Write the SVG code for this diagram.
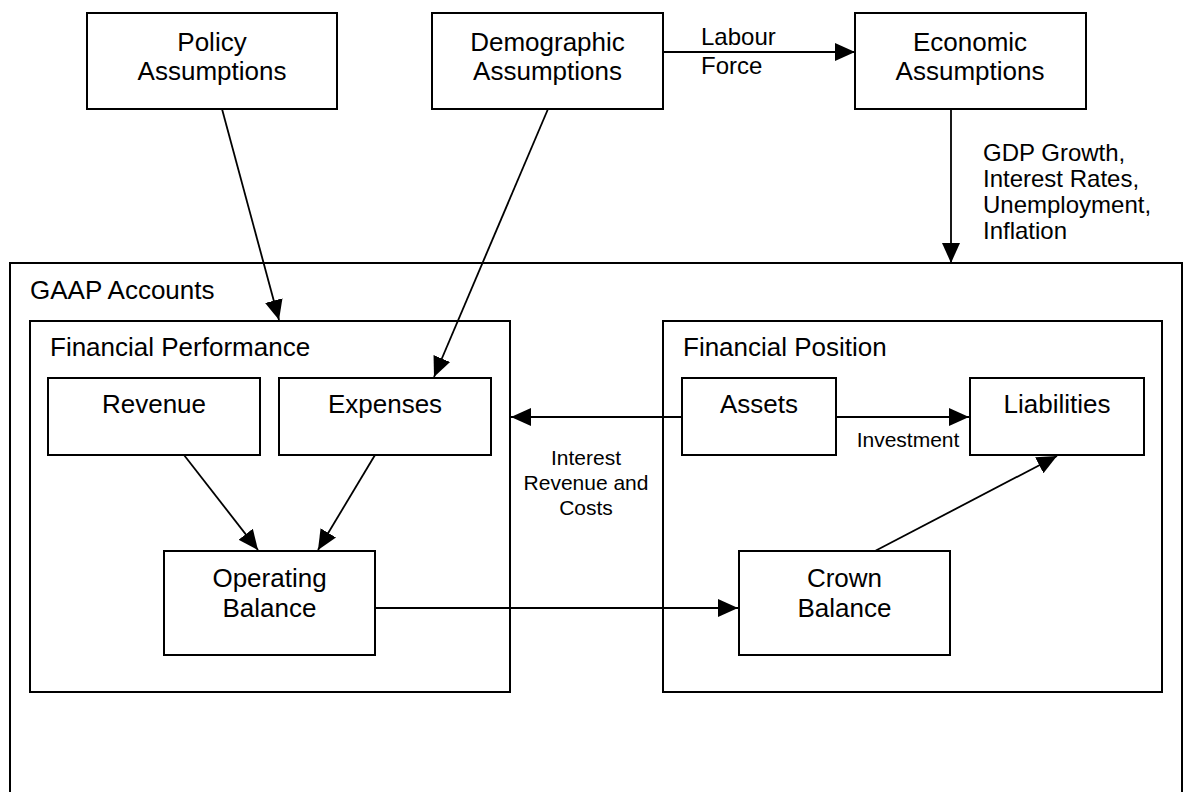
<svg xmlns="http://www.w3.org/2000/svg" width="1183" height="792" viewBox="0 0 1183 792">
<style>
.box{fill:#fff;stroke:#000;stroke-width:2}
.frame{fill:none;stroke:#000;stroke-width:2}
.t{font-family:"Liberation Sans",Arial,sans-serif;font-size:26px;fill:#000}
.c{text-anchor:middle}
.l{font-family:"Liberation Sans",Arial,sans-serif;font-size:24px;fill:#000}
.s{font-family:"Liberation Sans",Arial,sans-serif;font-size:21px;fill:#000}
.e{stroke:#000;stroke-width:1.8;fill:none;marker-end:url(#ah)}
</style>
<defs>
<marker id="ah" markerUnits="userSpaceOnUse" markerWidth="20" markerHeight="20" refX="20" refY="9" orient="auto" viewBox="0 0 20 18">
<path d="M0,0 L20,9 L0,18 Z" fill="#000"/>
</marker>
</defs>
<rect width="1183" height="792" fill="#fff"/>
<g id="gaap">
<rect class="frame" x="10" y="263" width="1172" height="560"/>
<text class="t" x="30" y="299">GAAP Accounts</text>
</g>
<g id="financial-performance">
<rect class="frame" x="30" y="321" width="480" height="371"/>
<text class="t" x="50" y="356">Financial Performance</text>
</g>
<g id="financial-position">
<rect class="frame" x="663" y="321" width="499" height="371"/>
<text class="t" x="683" y="356">Financial Position</text>
</g>
<g id="policy">
<rect class="box" x="87" y="13" width="250" height="96"/>
<text class="t c" x="212" y="51">Policy</text>
<text class="t c" x="212" y="80">Assumptions</text>
</g>
<g id="demographic">
<rect class="box" x="432" y="13" width="231" height="96"/>
<text class="t c" x="547.5" y="51">Demographic</text>
<text class="t c" x="547.5" y="80">Assumptions</text>
</g>
<g id="economic">
<rect class="box" x="855" y="13" width="231" height="96"/>
<text class="t c" x="970" y="51">Economic</text>
<text class="t c" x="970" y="80">Assumptions</text>
</g>
<g id="revenue">
<rect class="box" x="48" y="378" width="212" height="77"/>
<text class="t c" x="154" y="413">Revenue</text>
</g>
<g id="expenses">
<rect class="box" x="279" y="378" width="212" height="77"/>
<text class="t c" x="385" y="413">Expenses</text>
</g>
<g id="operating-balance">
<rect class="box" x="164" y="551" width="211" height="104"/>
<text class="t c" x="269.5" y="587">Operating</text>
<text class="t c" x="269.5" y="617">Balance</text>
</g>
<g id="assets">
<rect class="box" x="682" y="378" width="154" height="77"/>
<text class="t c" x="759" y="413">Assets</text>
</g>
<g id="liabilities">
<rect class="box" x="970" y="378" width="174" height="77"/>
<text class="t c" x="1057" y="413">Liabilities</text>
</g>
<g id="crown-balance">
<rect class="box" x="739" y="551" width="211" height="104"/>
<text class="t c" x="844.5" y="587">Crown</text>
<text class="t c" x="844.5" y="617">Balance</text>
</g>
<g id="connectors">
<line class="e" x1="663" y1="52" x2="855" y2="52"/>
<text class="l" x="701" y="45">Labour</text>
<text class="l" x="701" y="74">Force</text>
<line class="e" x1="951" y1="109" x2="951" y2="263"/>
<text class="l" x="983" y="161">GDP Growth,</text>
<text class="l" x="983" y="187">Interest Rates,</text>
<text class="l" x="983" y="213">Unemployment,</text>
<text class="l" x="983" y="239">Inflation</text>
<line class="e" x1="222" y1="109" x2="279" y2="320"/>
<line class="e" x1="548" y1="109" x2="434" y2="377"/>
<line class="e" x1="184" y1="455" x2="258" y2="550"/>
<line class="e" x1="375" y1="455" x2="318" y2="550"/>
<line class="e" x1="682" y1="417" x2="511" y2="417"/>
<text class="s c" x="586" y="465">Interest</text>
<text class="s c" x="586" y="490">Revenue and</text>
<text class="s c" x="586" y="515">Costs</text>
<line class="e" x1="836" y1="417" x2="969" y2="417"/>
<text class="s c" x="908" y="447">Investment</text>
<line class="e" x1="875" y1="551" x2="1057" y2="456"/>
<line class="e" x1="375" y1="608" x2="738" y2="608"/>
</g>
</svg>
